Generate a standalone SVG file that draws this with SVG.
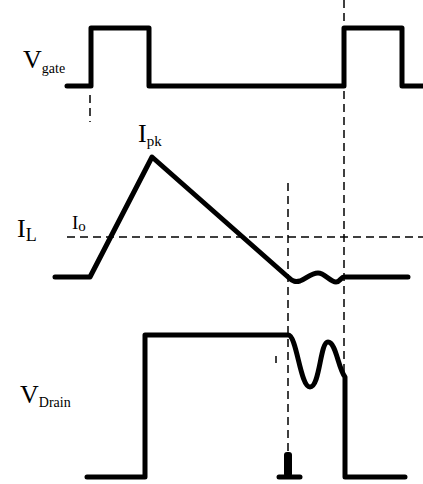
<svg xmlns="http://www.w3.org/2000/svg" width="423" height="484" viewBox="0 0 423 484">
<style>
.w{fill:none;stroke:#000;stroke-width:5;stroke-linejoin:round;stroke-linecap:round}
.d{fill:none;stroke:#000;stroke-width:1.5;stroke-dasharray:8,5}
.t{font-family:"Liberation Serif","Times New Roman",serif;fill:#000}
</style>
<rect width="423" height="484" fill="#fff"/>
<g id="connectors">
<line class="d" x1="90" y1="95" x2="90" y2="122"/>
<line class="d" x1="344" y1="0" x2="344" y2="374"/>
<line class="d" x1="288" y1="183" x2="288" y2="455"/>
<line class="d" x1="67" y1="237" x2="423" y2="237"/>
<line x1="276" y1="356" x2="276" y2="363" stroke="#000" stroke-width="1.5"/>
</g>
<g id="vgate">
<path class="w" d="M67,86 H91 V28 H149 V86 H344 V28 H402 V86 H425"/>
<text class="t" x="23" y="68" font-size="26">V<tspan font-size="14" dy="5">gate</tspan></text>
</g>
<g id="il">
<path class="w" d="M55,277 H90 L152,157 L288,277 C293,282 296,282 300,281 C306,279 311,273 318,273 C325,273 330,282 336,282 C340,282 341,277 344,277 H408"/>
<text class="t" x="138" y="142" font-size="26">I<tspan font-size="15" dy="4">pk</tspan></text>
<text class="t" x="72" y="229" font-size="19">I<tspan font-size="15" dy="2">o</tspan></text>
<text class="t" x="17" y="237" font-size="26">I<tspan font-size="18" dy="4">L</tspan></text>
</g>
<g id="vdrain">
<path class="w" d="M87,477 H145 V335 H288 C297,335 300,387 310,387 C320,387 320,342 328,342 C336,342 338,368 345,377 V477 H405"/>
<path class="w" d="M279,477 H300"/>
<rect x="284" y="452" width="8" height="25" rx="3" fill="#000"/>
<text class="t" x="20" y="403" font-size="26">V<tspan font-size="14" dy="4">Drain</tspan></text>
</g>
</svg>
